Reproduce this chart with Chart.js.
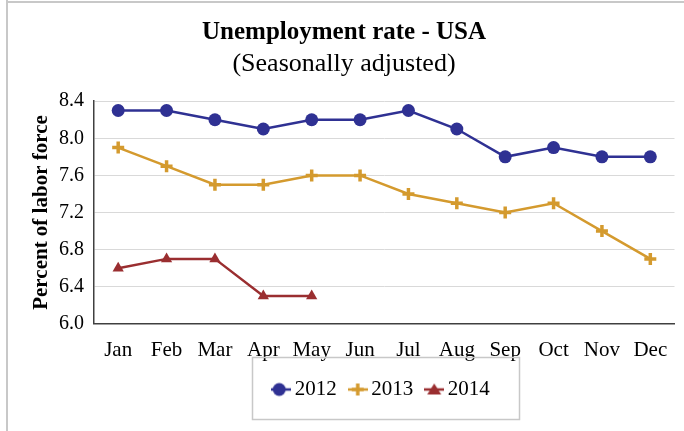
<!DOCTYPE html>
<html>
<head>
<meta charset="UTF-8">
<title>Unemployment rate - USA</title>
<script src="https://cdn.jsdelivr.net/npm/chart.js"></script>
<style>
  body { margin: 0; background: #fff; }
</style>
</head>
<body>
<canvas id="rateChart" width="684" height="431"></canvas>
<script>
var months = ['Jan', 'Feb', 'Mar', 'Apr', 'May', 'Jun', 'Jul', 'Aug', 'Sep', 'Oct', 'Nov', 'Dec'];
var rate2012 = [8.3, 8.3, 8.2, 8.1, 8.2, 8.2, 8.3, 8.1, 7.8, 7.9, 7.8, 7.8];
var rate2013 = [7.9, 7.7, 7.5, 7.5, 7.6, 7.6, 7.4, 7.3, 7.2, 7.3, 7.0, 6.7];
var rate2014 = [6.6, 6.7, 6.7, 6.3, 6.3];
var yTicks = [6.0, 6.4, 6.8, 7.2, 7.6, 8.0, 8.4];

var serif = 'Liberation Serif';
var blue = '#2f3193';
var gold = '#d49a2e';
var red = '#9a2e30';

// little legend picture: line with the marker in the middle
function legendIcon(color, style) {
    var c = document.createElement('canvas');
    c.width = 20; c.height = 16;
    var g = c.getContext('2d');
    g.strokeStyle = color;
    g.fillStyle = color;
    g.lineWidth = 2.5;
    g.beginPath(); g.moveTo(0, 8); g.lineTo(20, 8); g.stroke();
    if (style === 'circle') {
        g.beginPath(); g.arc(8, 8, 6.5, 0, Math.PI * 2); g.fill();
    } else if (style === 'cross') {
        g.lineWidth = 3.5;
        g.beginPath();
        g.moveTo(10, 2); g.lineTo(10, 14);
        g.moveTo(4, 8); g.lineTo(16, 8);
        g.stroke();
    } else {
        g.beginPath(); g.moveTo(10, 2); g.lineTo(17, 13); g.lineTo(3, 13); g.closePath(); g.fill();
    }
    return c;
}

var framePlugin = {
    id: 'frame',
    afterLayout: function(chart) {
        // excel puts the legend under the plot, a bit to the right
        var lg = chart.legend;
        lg.left += 40; lg.right += 40;
        lg.top -= 8; lg.bottom -= 8;
    },
    beforeDraw: function(chart) {
        var ctx = chart.ctx;
        ctx.save();
        ctx.fillStyle = '#fff';
        ctx.fillRect(0, 0, chart.width, chart.height);
        ctx.fillStyle = '#c8c8c8';
        ctx.fillRect(6, 0, 2, chart.height);
        ctx.fillRect(6, 1, chart.width, 2);
        ctx.restore();
    },
    afterDraw: function(chart) {
        var boxes = chart.legend.legendHitBoxes;
        if (!boxes || !boxes.length) return;
        var first = boxes[0], last = boxes[boxes.length - 1];
        var cy = first.top + first.height / 2;
        var left = Math.round(first.left - 26);
        var right = Math.round(last.left + last.width + 29);
        var ctx = chart.ctx;
        ctx.save();
        ctx.strokeStyle = '#c8c8c8';
        ctx.lineWidth = 1.5;
        ctx.strokeRect(left + 0.5, Math.round(cy - 33) + 0.5, right - left, 62);
        ctx.restore();
    }
};

var ctx = document.getElementById('rateChart').getContext('2d');
var rateChart = new Chart(ctx, {
    type: 'line',
    data: {
        labels: months,
        datasets: [{
            label: '2012',
            data: rate2012,
            borderColor: blue,
            backgroundColor: blue,
            borderWidth: 2.5,
            pointStyle: 'circle',
            pointRadius: 6.5,
            pointBorderWidth: 0,
            icon: legendIcon(blue, 'circle')
        }, {
            label: '2013',
            data: rate2013,
            borderColor: gold,
            backgroundColor: gold,
            borderWidth: 2.5,
            pointStyle: 'cross',
            pointRadius: 6,
            pointBorderWidth: 3.5,
            icon: legendIcon(gold, 'cross')
        }, {
            label: '2014',
            data: rate2014,
            borderColor: red,
            backgroundColor: red,
            borderWidth: 2.5,
            pointStyle: 'triangle',
            pointRadius: 6.5,
            pointBorderWidth: 0,
            icon: legendIcon(red, 'triangle')
        }]
    },
    options: {
        responsive: false,
        animation: false,
        layout: { padding: { left: 12, right: 8, top: 0, bottom: 13 } },
        plugins: {
            title: {
                display: true,
                text: 'Unemployment rate - USA',
                color: '#000',
                font: { family: serif, size: 25, weight: 'bold' },
                padding: { top: 18, bottom: 1 }
            },
            subtitle: {
                display: true,
                text: '(Seasonally adjusted)',
                color: '#000',
                font: { family: serif, size: 26 },
                padding: { top: 0, bottom: 21 }
            },
            legend: {
                position: 'bottom',
                labels: {
                    usePointStyle: true,
                    pointStyleWidth: 6,
                    color: '#000',
                    font: { family: serif, size: 21 },
                    padding: 18,
                    generateLabels: function(chart) {
                        return chart.data.datasets.map(function(ds, i) {
                            return {
                                text: ds.label,
                                pointStyle: ds.icon,
                                fillStyle: ds.borderColor,
                                strokeStyle: ds.borderColor,
                                lineWidth: 0,
                                hidden: false,
                                datasetIndex: i
                            };
                        });
                    }
                }
            },
            tooltip: { enabled: false }
        },
        scales: {
            x: {
                offset: true,
                grid: { display: false },
                border: { display: true, color: '#404040', width: 1.5 },
                ticks: { color: '#000', font: { family: serif, size: 21 }, padding: 6, maxRotation: 0 }
            },
            y: {
                min: 6.0,
                max: 8.4,
                afterBuildTicks: function(axis) {
                    axis.ticks = yTicks.map(function(v) { return { value: v }; });
                },
                afterFit: function(axis) { axis.width = 82; },
                grid: { color: '#d9d9d9', lineWidth: 1, drawTicks: false },
                border: { display: true, color: '#404040', width: 1.5 },
                ticks: {
                    color: '#000',
                    font: { family: serif, size: 20 },
                    padding: 10,
                    callback: function(v) { return Number(v).toFixed(1); }
                },
                title: {
                    display: true,
                    text: 'Percent of labor force',
                    color: '#000',
                    font: { family: serif, size: 21, weight: 'bold' },
                    padding: { top: 17, bottom: 3 }
                }
            }
        }
    },
    plugins: [framePlugin]
});
</script>
</body>
</html>
